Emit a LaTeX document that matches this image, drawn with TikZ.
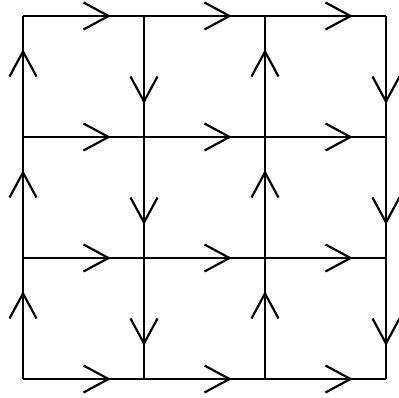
\documentclass[tikz,border=0pt]{standalone}
\usetikzlibrary{decorations.markings}
\begin{document}
\begin{tikzpicture}[x=1pt,y=-1pt,line width=2.2pt,
  flow/.style={postaction={decorate},decoration={markings,
    mark=at position 0.5 with {\draw[line width=2.2pt] (0pt,13.5pt) -- (25pt,0pt) -- (0pt,-13.5pt);}}}]
\useasboundingbox (0,0) rectangle (399,397);
\foreach \i/\x in {0/23,1/144,2/265,3/386}
  \foreach \j/\y in {0/16,1/137,2/258,3/379}
    \coordinate (g\i\j) at (\x,\y);
% horizontal edges, all to the right
\foreach \j in {0,1,2,3}
  \foreach \i/\k in {0/1,1/2,2/3}
    \draw[flow] (g\i\j) -- (g\k\j);
% vertical edges: columns 0 and 2 upward, 1 and 3 downward
\foreach \j/\k in {0/1,1/2,2/3} {
  \draw[flow] (g0\k) -- (g0\j);
  \draw[flow] (g1\j) -- (g1\k);
  \draw[flow] (g2\k) -- (g2\j);
  \draw[flow] (g3\j) -- (g3\k);
}
\end{tikzpicture}
\end{document}
